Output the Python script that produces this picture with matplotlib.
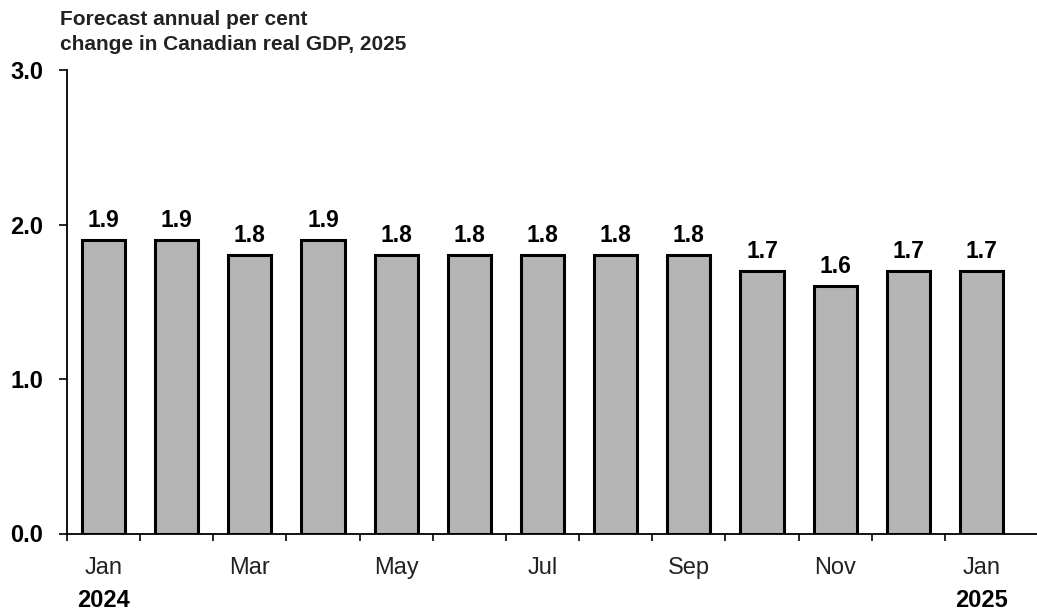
import matplotlib.pyplot as plt
import numpy as np

plt.rcParams['font.family'] = ['Liberation Sans', 'DejaVu Sans']

# Forecast annual per cent change in Canadian real GDP for 2025, by survey month
months = ['Jan', 'Feb', 'Mar', 'Apr', 'May', 'Jun', 'Jul', 'Aug', 'Sep', 'Oct', 'Nov', 'Dec', 'Jan']
forecast = [1.9, 1.9, 1.8, 1.9, 1.8, 1.8, 1.8, 1.8, 1.8, 1.7, 1.6, 1.7, 1.7]
year_labels = {0: '2024', 12: '2025'}
y_ticks = [0.0, 1.0, 2.0, 3.0]

fig = plt.figure(figsize=(10.37, 6.11), dpi=100)
ax = fig.add_axes([67 / 1037, 77.5 / 611, 1 - 67 / 1037, (533.5 - 70) / 611])

x = np.arange(len(months))
bars = ax.bar(x, forecast, width=0.59, color='#b4b4b4', edgecolor='black', linewidth=2.2)

for xi, v in zip(x, forecast):
    ax.annotate(f'{v:.1f}', (xi, v), xytext=(0, 6), textcoords='offset points',
                ha='center', va='bottom', fontsize=16.5, fontweight='bold')

ax.set_ylim(0, 3.0)
ax.set_xlim(-0.5, 12.76)
ax.set_yticks(y_ticks)
ax.set_yticklabels([f'{t:.1f}' for t in y_ticks], fontsize=17, fontweight='bold')

# major ticks sit between bars, labels go on every other bar
ax.set_xticks(np.arange(-0.5, 12.0, 1.0))
ax.set_xticklabels([])
ax.set_xticks(x, [m if i % 2 == 0 else '' for i, m in enumerate(months)], minor=True)
ax.tick_params(axis='x', which='minor', length=0, labelsize=17, pad=17, labelcolor='#222222')
ax.tick_params(axis='x', which='major', length=5, width=1.2, direction='out')
ax.tick_params(axis='y', length=6, width=1.2, pad=11)

for i, yr in year_labels.items():
    ax.text(i, -0.145, yr, transform=ax.get_xaxis_transform(), ha='center', va='center',
            fontsize=17, fontweight='bold')

for side in ['top', 'right']:
    ax.spines[side].set_visible(False)
for side in ['left', 'bottom']:
    ax.spines[side].set_linewidth(1.3)

fig.text(60 / 1037, 1 - 32 / 611, 'Forecast annual per cent\nchange in Canadian real GDP, 2025',
         ha='left', va='center', fontsize=15, fontweight='bold', color='#222222', linespacing=1.35)

fig.savefig('out.png', dpi=100)
